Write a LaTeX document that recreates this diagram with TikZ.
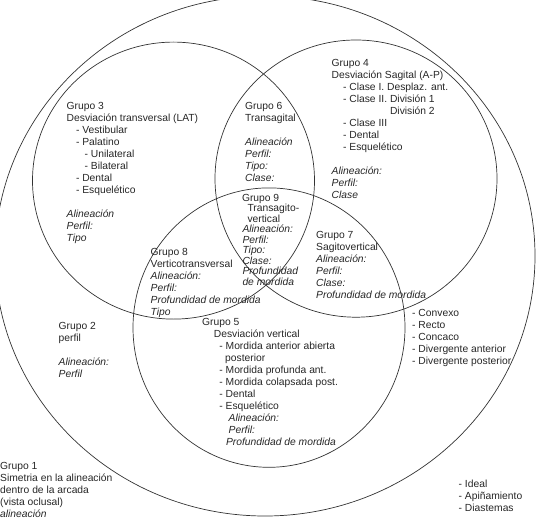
\documentclass[tikz,border=0pt]{standalone}
\usepackage{fontspec}
\setmainfont{Liberation Sans}
\usetikzlibrary{positioning}

\newcommand{\blk}[1]{\begin{tabular}[t]{@{}l@{}}#1\end{tabular}}
\newcommand{\ind}[1]{\hspace*{#1pt}}

\tikzset{
  circ/.style={draw=black!80, line width=0.7pt},
  txt/.style={anchor=base west, inner sep=0pt, text=black!85, font=\fontsize{10.3}{12}\selectfont},
  txtjunto/.style={txt, font=\fontsize{10.3}{10}\selectfont},
}

\begin{document}
\begin{tikzpicture}[x=1pt, y=-1pt]
  \useasboundingbox (0,0) rectangle (538,527);
  \clip (0,0) rectangle (538,527);

  % circulos del diagrama
  \coordinate (C1) at (265,256);
  \coordinate (C3) at (173.5,180.6);
  \coordinate (C4) at (356,178.6);
  \coordinate (C5) at (269,327.6);
  \draw[circ] (C1) circle [x radius=270pt, y radius=260pt];
  \draw[circ] (C3) circle [x radius=141pt, y radius=138.5pt];
  \draw[circ] (C4) circle [x radius=141pt, y radius=138.6pt];
  \draw[circ] (C5) circle [x radius=136pt, y radius=139.7pt];

  \node[txt] (g3) at (66.5,109.7) {\blk{Grupo 3\\ Desviación transversal (LAT)\\ \ind{9.3}- Vestibular\\ \ind{9.3}- Palatino\\ \ind{17.9}- Unilateral\\ \ind{17.9}- Bilateral\\ \ind{9.3}- Dental\\ \ind{9.3}- Esquelético\\ \\ \textit{Alineación}\\ \textit{Perfil:}\\ \textit{Tipo}}};
  \node[txt] (g4) at (331.5,66.2) {\blk{Grupo 4\\ Desviación Sagital (A-P)\\ \ind{11.4}- Clase I. Desplaz. ant.\\ \ind{11.4}- Clase II. División 1\\ \ind{11.4}\phantom{- Clase II. }División 2\\ \ind{11.4}- Clase III\\ \ind{11.4}- Dental\\ \ind{11.4}- Esquelético\\ \\ \textit{Alineación:}\\ \textit{Perfil:}\\ \textit{Clase}}};
  \node[txt] (g6) at (245,109.3) {\blk{Grupo 6\\ Transagital\\ \\ \textit{Alineación}\\ \textit{Perfil:}\\ \textit{Tipo:}\\ \textit{Clase:}}};
  \node[txtjunto] (g9) at (241.8,201.4) {\blk{Grupo 9\\ \ind{5.5}Transagito-\\ \ind{5.5}vertical\\ \ind{0.5}\textit{Alineación:}\\ \ind{0.5}\textit{Perfil:}\\ \ind{0.5}\textit{Tipo:}\\ \ind{0.5}\textit{Clase:}\\ \ind{0.5}\textit{Profundidad}\\ \ind{0.5}\textit{de mordida}}};
  \node[txt] (g8) at (150.5,255.2) {\blk{Grupo 8\\ Verticotransversal\\ \textit{Alineación:}\\ \textit{Perfil:}\\ \textit{Profundidad de mordida}\\ \textit{Tipo}}};
  \node[txt] (g7) at (316,238.4) {\blk{Grupo 7\\ Sagitovertical\\ \textit{Alineación:}\\ \textit{Perfil:}\\ \textit{Clase:}\\ \textit{Profundidad de mordida}}};
  \node[txt] (g5) at (202,325.6) {\blk{Grupo 5\\ \ind{11.7}Desviación vertical\\ \ind{17.2}- Mordida anterior abierta\\ \ind{23}posterior\\ \ind{17.2}- Mordida profunda ant.\\ \ind{17.2}- Mordida colapsada post.\\ \ind{17.2}- Dental\\ \ind{17.2}- Esquelético\\ \ind{26.5}\textit{Alineación:}\\ \ind{26.5}\textit{Perfil:}\\ \ind{23.8}\textit{Profundidad de mordida}}};
  \node[txt] (perfiles) at (412,316.4) {\blk{- Convexo\\ - Recto\\ - Concaco\\ - Divergente anterior\\ - Divergente posterior}};
  \node[txt] (g2) at (58.5,329.6) {\blk{Grupo 2\\ perfil\\ \\ \textit{Alineación:}\\ \textit{Perfil}}};
  \node[txt] (g1) at (0,469) {\blk{Grupo 1\\ Simetria en la alineación\\ dentro de la arcada\\ (vista oclusal)\\ \textit{alineación}}};
  \node[txt] (arcada) at (458.5,487.3) {\blk{- Ideal\\ - Apiñamiento\\ - Diastemas}};
\end{tikzpicture}
\end{document}
